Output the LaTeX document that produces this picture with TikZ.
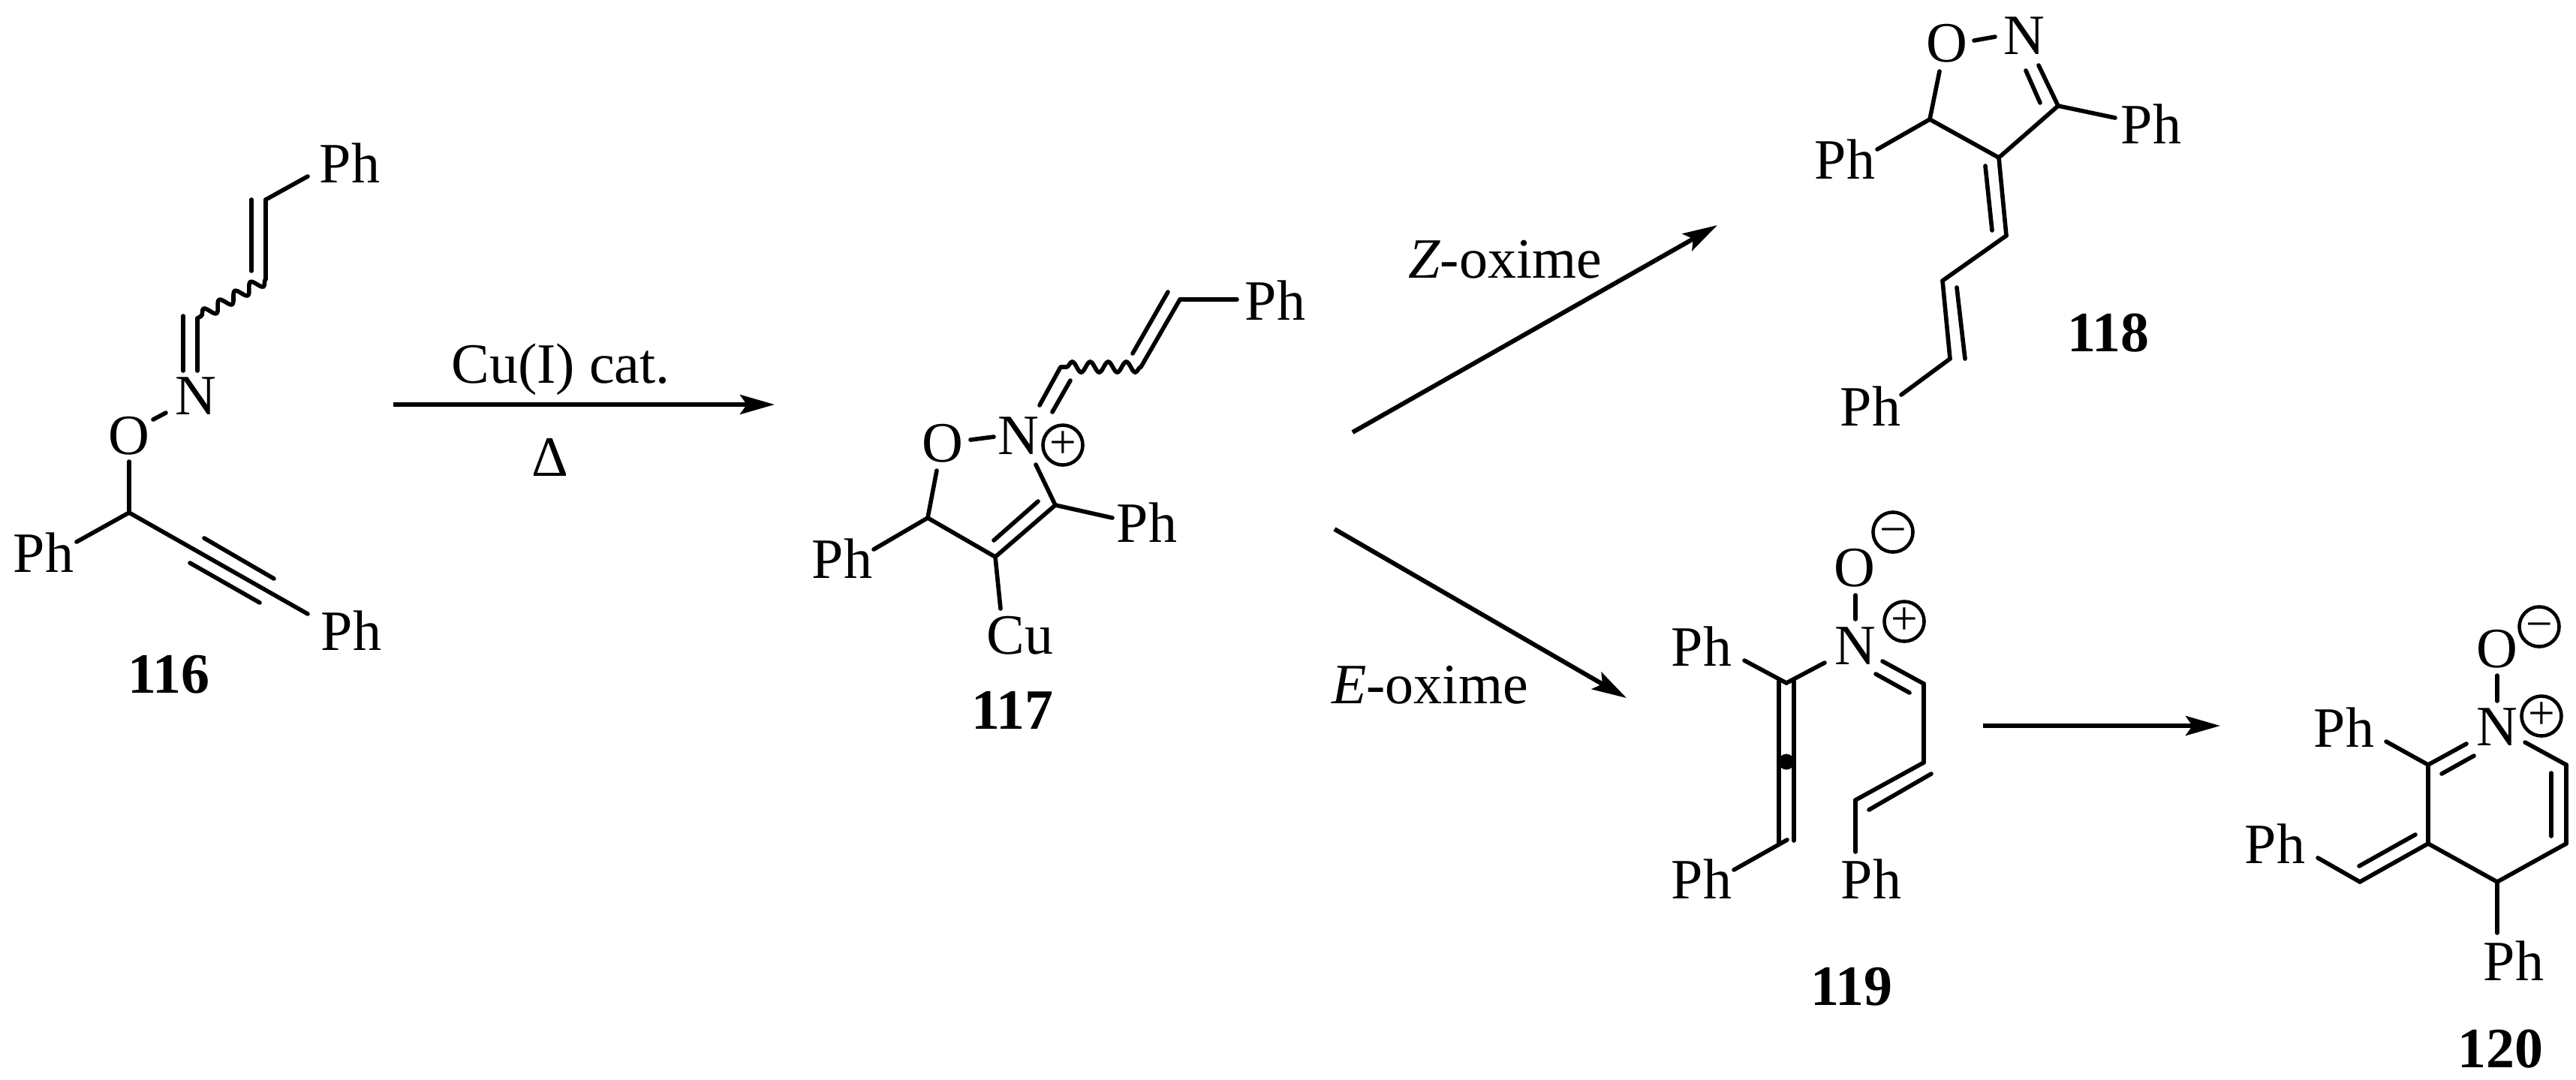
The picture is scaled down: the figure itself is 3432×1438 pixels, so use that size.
\documentclass[tikz,border=0pt]{standalone}
\usepackage{fontspec}
\setmainfont{Liberation Serif}
\usetikzlibrary{arrows.meta,decorations.pathmorphing}
\tikzset{
  bond/.style={line width=1.6pt,line cap=round,line join=miter},
  rxn/.style={line width=1.7pt,-{Stealth[length=.46cm,width=.26cm,inset=.09cm]}},
  wavy/.style={line width=1.6pt,decorate,decoration={snake,segment length=.24cm,amplitude=.07cm}},
  atom/.style={inner sep=0pt,font=\fontsize{21.6}{24}\selectfont},
  cmpd/.style={inner sep=0pt,font=\fontsize{21.6}{24}\selectfont\bfseries},
  chg/.style={circle,draw,line width=1.3pt,inner sep=0pt,minimum size=.53cm,font=\fontsize{18}{18}\selectfont},
  dot/.style={circle,fill=black,inner sep=0pt,minimum size=.21cm},
}
\begin{document}
\begin{tikzpicture}[x=0.01cm,y=-0.01cm]
\useasboundingbox (0,0) rectangle (3432,1438);
\fill[white] (0,0) rectangle (3432,1438);
% ---------- labels ----------
\foreach \n/\x/\y/\t in {
  a1/466/217/Ph,a2/58/736/Ph,a3/468/840/Ph,a4/261/528/N,a5/172/581/O,
  b1/1699/400/Ph,b2/1122/744/Ph,b3/1528/696/Ph,b4/1357/581/N,b5/1256/591/O,b6/1359/847/Cu,
  c1/2594/58/O,c2/2697/48/N,c3/2458/212/Ph,c4/2866/165/Ph,c5/2492/541/Ph,
  d1/2267/861/Ph,d2/2472/861/N,d3/2471/757/O,d4/2267/1171/Ph,d5/2493/1171/Ph,
  e1/3327/865/O,e2/3327/969/N,e3/3123/969/Ph,e4/3031/1124/Ph,e5/3349/1280/Ph}
  \node[atom] (\n) at (\x,\y) {\t};
\node[cmpd] (n116) at (225,899) {116};
\node[cmpd] (n117) at (1349,946) {117};
\node[cmpd] (n118) at (2809,444) {118};
\node[cmpd] (n119) at (2467,1315) {119};
\node[cmpd] (n120) at (3331,1398) {120};
\node[chg] (pb) at (1416,593) {\vphantom{+}+};
\node[chg] (md) at (2522,709) {\vphantom{+}−};
\node[chg] (pd) at (2537,828) {\vphantom{+}+};
\node[chg] (me) at (3383,835) {\vphantom{+}−};
\node[chg] (pe) at (3386,954) {\vphantom{+}+};
\node[atom,anchor=base] (t1) at (747,510) {Cu(I) cat.};
\node[atom,anchor=base] (t2) at (733,634) {Δ};
\node[atom,anchor=base] (t3) at (2005,370) {\textit{Z}-oxime};
\node[atom,anchor=base] (t4) at (1905,937) {\textit{E}-oxime};
% ---------- vertices ----------
\foreach \n/\x/\y in {
  A1/410/235,A2/354/266,A3/354/372,A4/335/266,A5/335/361,A6/263/424,A7/263/494,A8/244/421,A9/244/494,
  A10/204/559,A11/221/550,A12/172/615,A13/172/683,A14/102/722,A15/410/818,A16/272/717,A17/365/771,A18/253/750,A19/346/803,
  B1/1648/399,B2/1572/399,B3/1520/489,B4/1556/389,B5/1509/471,B6/1413/489,B7/1385/540,B8/1426/507,B9/1402/549,
  B10/1293/586,B11/1324/582,B12/1248/627,B13/1236/690,B14/1164/732,B15/1326/742,B16/1406/673,B17/1324/720,B18/1383/668,
  B19/1380/619,B20/1482/690,B21/1333/811,
  C1/2630/54,C2/2658/49,C3/2584/95,C4/2571/159,C5/2501/199,C6/2663/210,C7/2742/141,C8/2716/87,C9/2699/94,C10/2718/137,
  C11/2818/157,C12/2673/314,C13/2645/221,C14/2654/307,C15/2588/374,C16/2598/478,C17/2607/383,C18/2618/478,C19/2533/526,
  D1/2324/880,D2/2380/910,D3/2431/883,D4/2472/793,D5/2472/825,D6/2508/881,D7/2563/911,D8/2499/898,D9/2544/923,
  D10/2563/1016,D11/2472/1066,D12/2573/1031,D13/2490/1079,D14/2472/1135,D15/2370/908,D16/2370/1124,D17/2390/908,D18/2390/1120,
  D19/2381/1119,D20/2310/1159,D21/2380/1015,
  E1/3327/900,E2/3327/934,E3/3179/988,E4/3235/1019,E5/3286/991,E6/3253/1031,E7/3296/1007,E8/3364/989,E9/3419/1019,
  E10/3419/1124,E11/3399/1030,E12/3399/1114,E13/3327/1175,E14/3235/1124,E15/3144/1175,E16/3218/1112,E17/3143/1154,
  E18/3088/1143,E19/3327/1243,
  R1/524/539,R2/1032/539,R3/1802/576,R4/2288/300,R5/1778/705,R6/2167/930,R7/2642/967,R8/2958/967}
  \coordinate (\n) at (\x,\y);
% ---------- bonds ----------
\foreach \a/\b in {
  A1/A2,A2/A3,A4/A5,A6/A7,A8/A9,A10/A11,A12/A13,A13/A14,A13/A15,A16/A17,A18/A19,
  B1/B2,B2/B3,B4/B5,B6/B7,B8/B9,B10/B11,B12/B13,B13/B14,B13/B15,B15/B16,B17/B18,B19/B16,B16/B20,B15/B21,
  C1/C2,C3/C4,C4/C5,C4/C6,C6/C7,C8/C7,C9/C10,C7/C11,C6/C12,C13/C14,C12/C15,C15/C16,C17/C18,C16/C19,
  D1/D2,D2/D3,D4/D5,D6/D7,D8/D9,D7/D10,D10/D11,D12/D13,D11/D14,D15/D16,D17/D18,D19/D20,
  E1/E2,E3/E4,E4/E5,E6/E7,E8/E9,E9/E10,E11/E12,E10/E13,E13/E14,E14/E4,E14/E15,E16/E17,E15/E18,E13/E19}
  \draw[bond] (\a) -- (\b);
\draw[wavy] (A3) -- (A6);
\draw[wavy] (B3) -- (B6);
\node[dot] (dt) at (D21) {};
% ---------- reaction arrows ----------
\draw[rxn] (R1) -- (R2);
\draw[rxn] (R3) -- (R4);
\draw[rxn] (R5) -- (R6);
\draw[rxn] (R7) -- (R8);
\end{tikzpicture}
\end{document}
